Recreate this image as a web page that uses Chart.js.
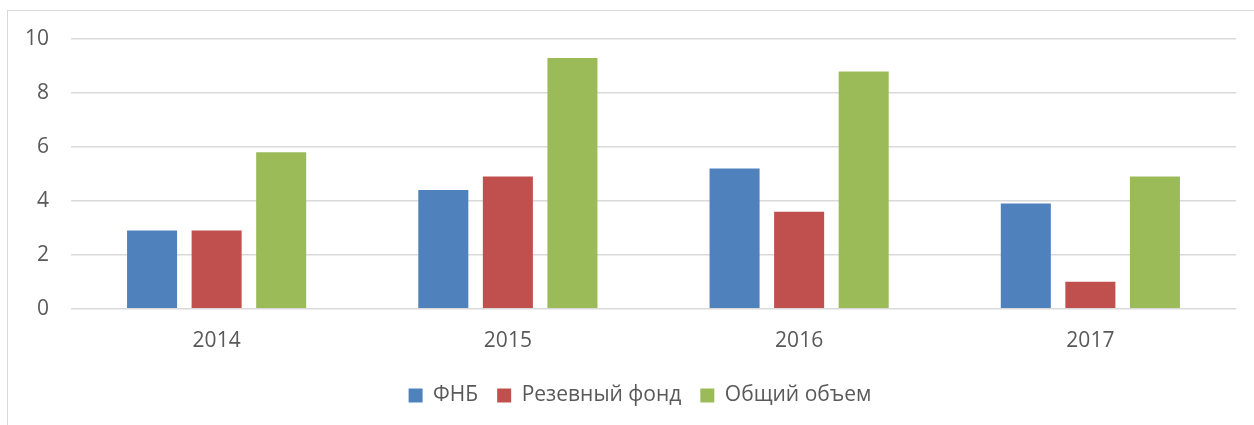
<!DOCTYPE html>
<html>
<head>
<meta charset="utf-8">
<script src="https://cdn.jsdelivr.net/npm/chart.js@4/dist/chart.umd.min.js"></script>
<style>
    body { margin: 0; background: #fff; }
    #frame { position: absolute; left: 7px; top: 10px; width: 1300px; height: 500px;
             border-left: 1px solid #d9d9d9; border-top: 1px solid #d9d9d9; }
    #wrap { position: absolute; left: 0; top: 0; width: 1254px; height: 425px; }
</style>
</head>
<body>
<div id="frame"></div>
<div id="wrap"><canvas id="fundChart" width="1254" height="425"></canvas></div>
<script>
// Данные графика
const years = ["2014", "2015", "2016", "2017"];
const fnbValues = [2.9, 4.4, 5.2, 3.9];
const reserveValues = [2.9, 4.9, 3.6, 1.0];
const totalValues = [5.8, 9.3, 8.8, 4.9];
const yTicks = [0, 2, 4, 6, 8, 10];

const textColor = "#595959";
const fontFamily = "'Open Sans', sans-serif";

// Сдвиг легенды к центру рамки
const legendShift = {
    id: "legendShift",
    afterLayout(chart) {
        chart.legend.left += 22;
        chart.legend.right += 22;
    }
};

function createFundChart() {
    const ctx = document.getElementById("fundChart").getContext("2d");
    new Chart(ctx, {
        type: "bar",
        data: {
            labels: years,
            datasets: [
                { label: "ФНБ", data: fnbValues, backgroundColor: "#4F81BD" },
                { label: "Резевный фонд", data: reserveValues, backgroundColor: "#C0504D" },
                { label: "Общий объем", data: totalValues, backgroundColor: "#9BBB59" }
            ]
        },
        options: {
            responsive: false,
            animation: false,
            categoryPercentage: 0.665,
            barPercentage: 0.775,
            layout: { padding: { top: 39, right: 18, left: 0, bottom: 9 } },
            plugins: {
                tooltip: { enabled: false },
                legend: {
                    position: "bottom",
                    labels: {
                        boxWidth: 14,
                        boxHeight: 14,
                        padding: 19,
                        color: textColor,
                        font: { family: fontFamily, size: 21 }
                    }
                }
            },
            scales: {
                x: {
                    grid: { display: false },
                    border: { display: false },
                    ticks: { color: textColor, padding: 12, font: { family: fontFamily, size: 21 } }
                },
                y: {
                    min: 0,
                    max: 10,
                    afterFit: scale => { scale.width = 71; },
                    afterBuildTicks: scale => { scale.ticks = yTicks.map(v => ({ value: v })); },
                    grid: { color: "#d9d9d9", lineWidth: 1.5, drawTicks: false },
                    border: { display: false },
                    ticks: { color: textColor, padding: 22, font: { family: fontFamily, size: 21 } }
                }
            }
        },
        plugins: [legendShift]
    });
}

document.addEventListener("DOMContentLoaded", createFundChart);
</script>
</body>
</html>
